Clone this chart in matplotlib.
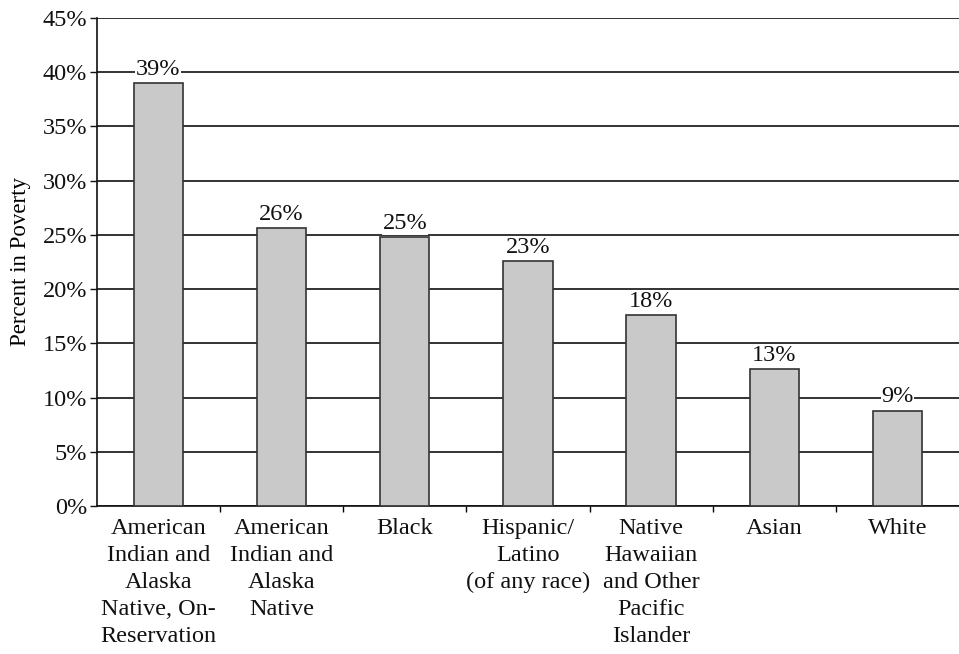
import numpy as np
import matplotlib.pyplot as plt
from matplotlib.ticker import FuncFormatter, FixedLocator

# Poverty rate by race / ethnicity
groups = [
    "American\nIndian and\nAlaska\nNative, On-\nReservation",
    "American\nIndian and\nAlaska\nNative",
    "Black",
    "Hispanic/\nLatino\n(of any race)",
    "Native\nHawaiian\nand Other\nPacific\nIslander",
    "Asian",
    "White",
]
poverty_pct = [39.0, 25.6, 24.8, 22.6, 17.6, 12.6, 8.8]

plt.rcParams['font.family'] = ['Liberation Serif', 'DejaVu Serif']

fig = plt.figure(figsize=(9.59, 6.54), dpi=100)
ax = fig.add_axes([0.101, 0.2263, 0.899, 0.7462])

x = np.arange(len(groups))
bars = ax.bar(x, poverty_pct, width=0.4, color='#c9c9c9', edgecolor='#333333',
              linewidth=1.2, zorder=3)

for b, v in zip(bars, poverty_pct):
    ax.text(b.get_x() + b.get_width() / 2, v + 0.3, f"{v:.0f}%",
            ha='center', va='bottom', fontsize=17.5, color='#111111', zorder=4,
            bbox=dict(facecolor='white', edgecolor='none', pad=0.5))

ax.set_xlim(-0.5, len(groups) - 0.5)
ax.set_ylim(0, 45)
ax.set_yticks(np.arange(0, 46, 5))
ax.yaxis.set_major_formatter(FuncFormatter(lambda v, _: f"{v:.0f}%"))
ax.yaxis.grid(True, color='#111111', linewidth=1.2, zorder=1)
ax.set_axisbelow(True)

ax.set_xticks(x)
ax.set_xticklabels(groups, fontsize=17.5, linespacing=1.36, color='#111111')
ax.tick_params(axis='x', which='major', length=0, pad=9)
ax.xaxis.set_minor_locator(FixedLocator(x[:-1] + 0.5))
ax.tick_params(axis='x', which='minor', length=4, width=1, direction='out')
ax.tick_params(axis='y', labelsize=17.5, length=5, width=1, pad=2, colors='#111111')

for side in ['top', 'right']:
    ax.spines[side].set_visible(False)
for side in ['left', 'bottom']:
    ax.spines[side].set_color('#111111')
    ax.spines[side].set_linewidth(1.2)

ax.set_ylabel("Percent in Poverty", fontsize=16.5, labelpad=8)

fig.savefig("out.png", dpi=100)
